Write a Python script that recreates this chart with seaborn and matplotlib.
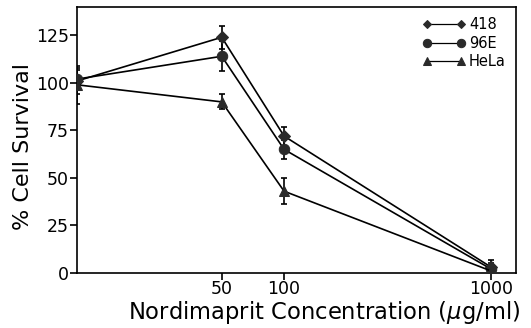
import numpy as np
import pandas as pd
import matplotlib
matplotlib.use("Agg")
import matplotlib.pyplot as plt
import seaborn as sns

# concentration (ug/ml); control (0) is drawn at the left edge of the log axis (10)
conc = [10, 50, 100, 1000]
s418 = [101, 124, 72, 3]
e418 = [7, 6, 5, 4]
s96e = [102, 114, 65, 2]
e96e = [5, 8, 5, 3]
shela = [99, 90, 43, 1]
ehela = [10, 4, 7, 2]
series = ["418", "96E", "HeLa"]
xticks = [50, 100, 1000]
yticks = [0, 25, 50, 75, 100, 125]

df = pd.DataFrame({
    "conc": conc * 3,
    "surv": s418 + s96e + shela,
    "err": e418 + e96e + ehela,
    "line": [s for s in series for _ in conc],
})

sns.set_theme(style="white")
plt.rcParams["font.family"] = ["DejaVu Sans"]
plt.rcParams["text.color"] = "black"
plt.rcParams["axes.labelcolor"] = "black"

fig = plt.figure(figsize=(5.31, 3.28), dpi=100)
ax = fig.add_axes([0.145, 0.168, 0.827, 0.811])

markers = {"418": "D", "96E": "o", "HeLa": "^"}
msize = {"418": 6, "96E": 7.5, "HeLa": 7}
lsize = {"418": 4.5, "96E": 6, "HeLa": 5.5}
mc = "#2a2a2a"
for name in series:
    d = df[df.line == name]
    ax.errorbar(d.conc, d.surv, yerr=d.err, fmt="none", ecolor="black",
                elinewidth=1.2, capsize=2.5, capthick=1.2, zorder=2)
    sns.lineplot(data=d, x="conc", y="surv", ax=ax, color="black", lw=1.2,
                 marker=markers[name], markersize=msize[name],
                 markerfacecolor=mc, markeredgecolor=mc, label=name, zorder=3)

ax.set_xscale("log")
ax.set_xlim(10, 1320)
ax.set_ylim(0, 140)
ax.set_xticks(xticks)
ax.set_xticklabels([str(t) for t in xticks])
ax.xaxis.set_minor_locator(matplotlib.ticker.NullLocator())
ax.set_yticks(yticks)
ax.tick_params(axis="both", direction="out", length=5, width=1.2, color="black",
               labelsize=12.5, pad=1, bottom=True, left=True, colors="black")
ax.tick_params(axis="x", pad=0)
for sp in ax.spines.values():
    sp.set_color("black")
    sp.set_linewidth(1.2)
ax.set_xlabel("Nordimaprit Concentration ($\\mu$g/ml)", fontsize=16.3)
ax.xaxis.set_label_coords(0.563, -0.1, transform=ax.transAxes)
ax.xaxis.label.set_va("top")
ax.set_ylabel("% Cell Survival", fontsize=16)
ax.yaxis.set_label_coords(-0.1, 0.475, transform=ax.transAxes)

leg = ax.legend(loc="upper right", frameon=False, numpoints=2, fontsize=10.5,
                handlelength=2.9, labelspacing=0.25, handletextpad=0.25,
                borderaxespad=0.4, borderpad=0.3)
for h, name in zip(leg.legend_handles, series):
    h.set_markersize(lsize[name])
    h.set_linewidth(0.9)

fig.savefig("out.png", dpi=100)
